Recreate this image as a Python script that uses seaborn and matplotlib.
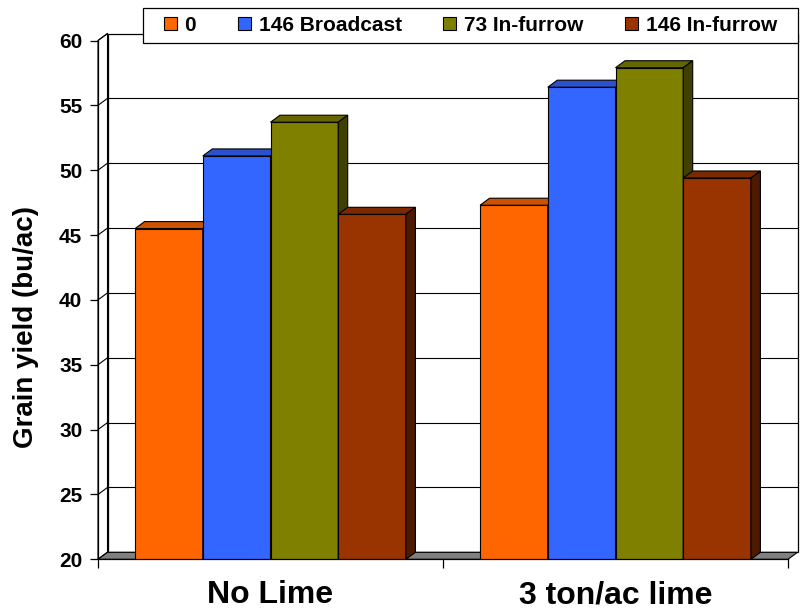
import numpy as np
import pandas as pd
import matplotlib
matplotlib.use("Agg")
import matplotlib.pyplot as plt
import seaborn as sns
from matplotlib.patches import Polygon, Rectangle, Patch
from matplotlib.colors import to_rgb

categories = ["No Lime", "3 ton/ac lime"]
treatments = ["0", "146 Broadcast", "73 In-furrow", "146 In-furrow"]
no_lime = [45.5, 51.1, 53.7, 46.6]
lime_3t = [47.3, 56.4, 57.9, 49.4]
colors = ["#FF6600", "#3366FF", "#808000", "#993300"]
y_ticks = [20, 25, 30, 35, 40, 45, 50, 55, 60]

df = pd.DataFrame({
    "lime": [categories[0]] * 4 + [categories[1]] * 4,
    "treatment": treatments * 2,
    "yield": no_lime + lime_3t,
})

sns.set_style("white")
plt.rcParams["font.family"] = ["Liberation Sans", "DejaVu Sans"]
plt.rcParams["font.weight"] = "bold"
for key in ["text.color", "axes.labelcolor", "xtick.color", "ytick.color"]:
    plt.rcParams[key] = "black"

W, H = 807, 612
fig = plt.figure(figsize=(W / 100, H / 100), dpi=100)
left_px, right_px, top_px, bot_px = 98, 788, 40.5, 559.3
ax = fig.add_axes([left_px / W, 1 - bot_px / H,
                   (right_px - left_px) / W, (bot_px - top_px) / H])

sns.barplot(data=df, x="lime", y="yield", hue="treatment", hue_order=treatments,
            palette=colors, width=0.785, saturation=1, edgecolor="black",
            linewidth=0.8, legend=False, ax=ax)

ax.set_xlim(-0.5, 1.5)
ax.set_ylim(20, 60)

# depth of the fake 3d box, in data units
dxd = 9.5 / ((right_px - left_px) / 2)
dyd = 7.0 / ((bot_px - top_px) / 40)
x0, x1 = -0.5, 1.5

# back wall + gridlines
ax.add_patch(Rectangle((x0 + dxd, 20 + dyd), x1 - x0, 40, facecolor="white",
                       edgecolor="black", lw=0.9, zorder=0.5, clip_on=False))
for v in y_ticks[1:-1]:
    ax.plot([x0 + dxd, x1 + dxd], [v + dyd, v + dyd], color="black", lw=0.8,
            zorder=0.6, clip_on=False)
for v in y_ticks:
    ax.plot([x0, x0 + dxd], [v, v + dyd], color="black", lw=0.8,
            zorder=0.6, clip_on=False)
# left wall
ax.add_patch(Polygon([(x0, 20), (x0, 60), (x0 + dxd, 60 + dyd), (x0 + dxd, 20 + dyd)],
                     closed=True, facecolor="none", edgecolor="black", lw=0.8,
                     zorder=0.6, clip_on=False))
# floor
ax.add_patch(Polygon([(x0, 20), (x1, 20), (x1 + dxd, 20 + dyd), (x0 + dxd, 20 + dyd)],
                     closed=True, facecolor="#808080", edgecolor="black", lw=0.8,
                     zorder=0.7, clip_on=False))

# top and side faces for every bar
bars = sorted([p for p in ax.patches if isinstance(p, Rectangle) and p.get_height() > 0
               and p.get_width() < 0.5], key=lambda r: r.get_x())
for k, r in enumerate(bars):
    bx, bw, bh = r.get_x(), r.get_width(), r.get_height()
    c = np.array(to_rgb(r.get_facecolor()))
    r.set_zorder(2 + k)
    top = Polygon([(bx, bh), (bx + bw, bh), (bx + bw + dxd, bh + dyd), (bx + dxd, bh + dyd)],
                  closed=True, facecolor=c * 0.8, edgecolor="black", lw=0.8,
                  zorder=2.5 + k, clip_on=False)
    side = Polygon([(bx + bw, 20), (bx + bw + dxd, 20 + dyd), (bx + bw + dxd, bh + dyd),
                    (bx + bw, bh)], closed=True, facecolor=c * 0.5, edgecolor="black",
                   lw=0.8, zorder=2.5 + k, clip_on=False)
    ax.add_patch(top)
    ax.add_patch(side)

for s in ["top", "right"]:
    ax.spines[s].set_visible(False)
for s in ["left", "bottom"]:
    ax.spines[s].set_color("black")
    ax.spines[s].set_linewidth(0.9)
    ax.spines[s].set_zorder(50)

ax.set_yticks(y_ticks)
ax.tick_params(axis="y", direction="out", length=5.8, width=0.9, color="black",
               pad=5.5, labelsize=15, labelcolor="black", left=True)
ax.set_xticks([0, 1])
ax.set_xticklabels(categories, fontsize=23, fontweight="bold", color="black")
ax.set_xticks([-0.5, 0.5, 1.5], minor=True)
ax.tick_params(axis="x", which="major", length=0, pad=15)
ax.tick_params(axis="x", which="minor", direction="out", length=6.5, width=0.9,
               color="black", bottom=True)
ax.set_xlabel("")
ax.set_ylabel("")

fig.text(26 / W, 1 - 327 / H, "Grain yield (bu/ac)", rotation=90, ha="center",
         va="center", fontsize=20, fontweight="bold", color="black")

# legend box
fig.patches.append(Rectangle((143 / W, 1 - 43 / H), (798 - 143) / W, 35 / H,
                             transform=fig.transFigure, facecolor="white",
                             edgecolor="black", lw=0.9, zorder=60))
handles = [Patch(facecolor=c, edgecolor="black", lw=0.8) for c in colors]
leg = fig.legend(handles, treatments, ncol=4, loc="center",
                 bbox_to_anchor=((143 + 798) / 2 / W, 1 - 25.5 / H),
                 frameon=False, fontsize=15, handlelength=0.62, handleheight=0.62,
                 handletextpad=0.38, columnspacing=2.0, borderpad=0)
leg.set_zorder(70)
for t in leg.get_texts():
    t.set_fontweight("bold")
    t.set_color("black")

fig.savefig("out.png", dpi=100)
